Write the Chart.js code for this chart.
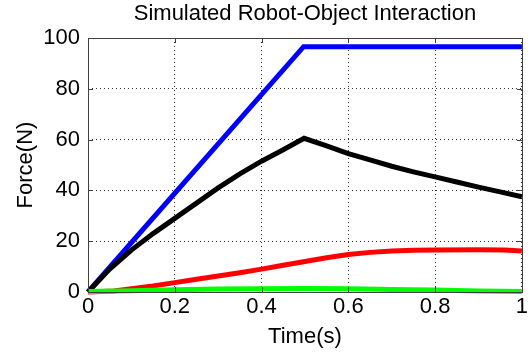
<!DOCTYPE html>
<html>
<head>
<meta charset="utf-8">
<script src="https://cdn.jsdelivr.net/npm/chart.js@4.4.0/dist/chart.umd.min.js"></script>
<style>
  html, body { margin: 0; padding: 0; background: #fff; }
  #wrap { width: 530px; height: 356px; position: relative; }
</style>
</head>
<body>
<div id="wrap"><canvas id="forceChart"></canvas></div>
<script>
// Dữ liệu (thời gian tính bằng giây, lực tính bằng N)
const blueTime = [0, 0.497, 1];
const blueForce = [0, 96.6, 96.6];

const blackTime = [0, 0.05, 0.1, 0.15, 0.2, 0.25, 0.3, 0.35, 0.4, 0.45, 0.498,
                   0.55, 0.6, 0.65, 0.7, 0.75, 0.8, 0.85, 0.9, 0.95, 1];
const blackForce = [0, 9, 16.5, 23, 29, 35, 41, 46.5, 51.5, 56, 60.5,
                    57.5, 54.5, 52, 49.5, 47.3, 45.3, 43.3, 41.3, 39.4, 37.5];

const redTime = [0, 0.06, 0.1, 0.15, 0.2, 0.25, 0.3, 0.35, 0.4, 0.45, 0.5,
                 0.55, 0.6, 0.65, 0.7, 0.75, 0.8, 0.9, 0.96, 1];
const redForce = [0, 0.4, 1.3, 2.4, 3.7, 5, 6.3, 7.6, 9, 10.5, 12,
                  13.5, 14.8, 15.6, 16.1, 16.4, 16.5, 16.6, 16.5, 16.1];

const greenTime = [0, 0.1, 0.2, 0.3, 0.4, 0.5, 0.6, 0.7, 0.8, 0.9, 1];
const greenForce = [0.2, 0.5, 0.9, 1.2, 1.3, 1.4, 1.3, 1.0, 0.8, 0.4, 0.2];

const xTicks = [0, 0.2, 0.4, 0.6, 0.8, 1];
const yTicks = [0, 20, 40, 60, 80, 100];

const toPoints = (ts, vs) => ts.map((t, i) => ({ x: t, y: vs[i] }));

const FONT = 'Arial, "Liberation Sans", sans-serif';

// Vẽ khung hộp kiểu MATLAB và vạch chia hướng vào trong
const boxPlugin = {
    id: 'matlabBox',
    afterDatasetsDraw(chart) {
        const { ctx, chartArea: a, scales } = chart;
        ctx.save();
        ctx.strokeStyle = '#404040';
        ctx.lineWidth = 1;
        ctx.setLineDash([]);
        ctx.strokeRect(Math.round(a.left) + 0.5, Math.round(a.top) + 0.5,
                       Math.round(a.right - a.left), Math.round(a.bottom - a.top));
        ctx.beginPath();
        const tl = 5;
        xTicks.forEach(v => {
            const px = Math.round(scales.x.getPixelForValue(v)) + 0.5;
            ctx.moveTo(px, a.bottom); ctx.lineTo(px, a.bottom - tl);
            ctx.moveTo(px, a.top); ctx.lineTo(px, a.top + tl);
        });
        yTicks.forEach(v => {
            const py = Math.round(scales.y.getPixelForValue(v)) + 0.5;
            ctx.moveTo(a.left, py); ctx.lineTo(a.left + tl, py);
            ctx.moveTo(a.right, py); ctx.lineTo(a.right - tl, py);
        });
        ctx.stroke();
        ctx.restore();
    }
};

const lineStyle = { borderWidth: 5, pointRadius: 0, tension: 0, fill: false, clip: false };

new Chart(document.getElementById('forceChart').getContext('2d'), {
    type: 'line',
    data: {
        datasets: [
            { label: 'green', data: toPoints(greenTime, greenForce), borderColor: '#00ff00', ...lineStyle },
            { label: 'red', data: toPoints(redTime, redForce), borderColor: '#ff0000', ...lineStyle },
            { label: 'black', data: toPoints(blackTime, blackForce), borderColor: '#000000', ...lineStyle },
            { label: 'blue', data: toPoints(blueTime, blueForce), borderColor: '#0000ff', ...lineStyle }
        ]
    },
    plugins: [boxPlugin],
    options: {
        responsive: true,
        maintainAspectRatio: false,
        animation: false,
        devicePixelRatio: 1,
        layout: { padding: { left: 0, right: 8, top: 0, bottom: 0 } },
        plugins: {
            legend: { display: false },
            tooltip: { enabled: false },
            title: {
                display: true,
                fullSize: false,
                text: 'Simulated Robot-Object Interaction',
                color: '#000',
                font: { family: FONT, size: 22, weight: 'normal', lineHeight: 1.2 },
                padding: { top: 1, bottom: 10.6 }
            }
        },
        scales: {
            x: {
                type: 'linear',
                min: 0,
                max: 1,
                afterBuildTicks: s => { s.ticks = xTicks.map(v => ({ value: v })); },
                afterFit: s => { s.height = 64; },
                ticks: {
                    color: '#000',
                    font: { family: FONT, size: 22 },
                    padding: 2,
                    maxRotation: 0,
                    callback: v => String(v)
                },
                grid: { color: '#333', lineWidth: 1, drawTicks: false },
                border: { display: false, dash: [1, 3] },
                title: {
                    display: true,
                    text: 'Time(s)',
                    color: '#000',
                    font: { family: FONT, size: 22, lineHeight: 1.2 },
                    padding: { top: 0, bottom: 6 }
                }
            },
            y: {
                type: 'linear',
                min: 0,
                max: 100,
                afterBuildTicks: s => { s.ticks = yTicks.map(v => ({ value: v })); },
                afterFit: s => { s.width = 88; },
                ticks: {
                    color: '#000',
                    font: { family: FONT, size: 22 },
                    padding: 8
                },
                grid: { color: '#333', lineWidth: 1, drawTicks: false },
                border: { display: false, dash: [1, 3] },
                title: {
                    display: true,
                    text: 'Force(N)',
                    color: '#000',
                    font: { family: FONT, size: 22, lineHeight: 1.2 },
                    padding: { top: 13, bottom: 0 }
                }
            }
        }
    }
});
</script>
</body>
</html>
